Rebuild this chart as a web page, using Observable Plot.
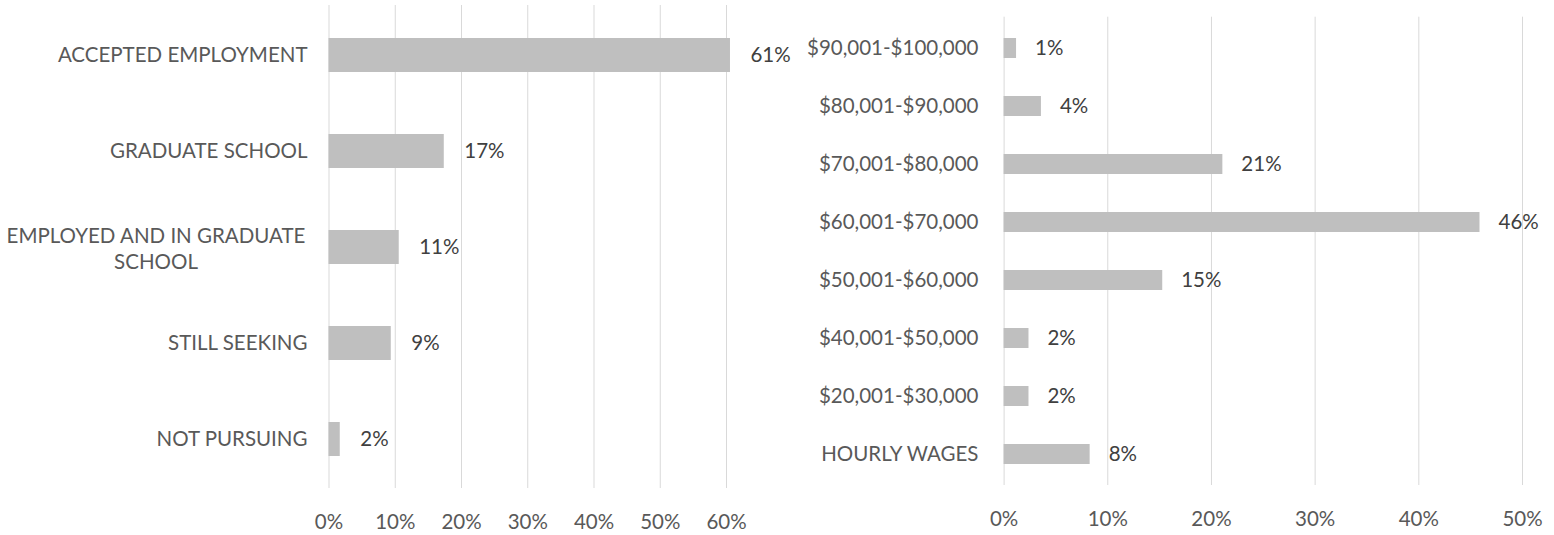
<!DOCTYPE html>
<html><head><meta charset="utf-8">
<script src="https://cdn.jsdelivr.net/npm/d3@7"></script>
<script src="https://cdn.jsdelivr.net/npm/@observablehq/plot@0.6"></script>
<style>
html,body{margin:0;padding:0;background:#fff;}
#wrap{position:relative;width:1554px;height:535px;overflow:hidden;background:#fff;}
#left{position:absolute;left:0;top:0;}
#right{position:absolute;left:800px;top:0;}
</style></head><body><div id="wrap"><div id="left"></div><div id="right"></div></div>
<script>
const outcomeCategories = ["ACCEPTED EMPLOYMENT", "GRADUATE SCHOOL", "EMPLOYED AND IN GRADUATE\nSCHOOL", "STILL SEEKING", "NOT PURSUING"];
const outcomeValues = [0.606, 0.174, 0.106, 0.094, 0.017];
const outcomeTicks = [0, 0.1, 0.2, 0.3, 0.4, 0.5, 0.6];

const salaryCategories = ["$90,001-$100,000", "$80,001-$90,000", "$70,001-$80,000", "$60,001-$70,000", "$50,001-$60,000", "$40,001-$50,000", "$20,001-$30,000", "HOURLY WAGES"];
const salaryValues = [0.012, 0.036, 0.211, 0.459, 0.153, 0.024, 0.024, 0.083];
const salaryTicks = [0, 0.1, 0.2, 0.3, 0.4, 0.5];

const pct = d3.format(".0%");
const FONT = "Lato, 'Open Sans', sans-serif";
const FS = "20.5px";
const baseStyle = {fontFamily: FONT, fontSize: FS, color: "#595959", background: "white", overflow: "visible"};

const outcomes = outcomeCategories.map((c, i) => ({category: c, value: outcomeValues[i]}));
const salaries = salaryCategories.map((c, i) => ({category: c, value: salaryValues[i]}));

const left = Plot.plot({
  width: 800, height: 535,
  marginLeft: 328.5, marginRight: 74, marginTop: 5, marginBottom: 47,
  style: baseStyle,
  x: {domain: [0, 0.6], label: null},
  y: {domain: outcomeCategories, paddingInner: 0.65, paddingOuter: 0.325, axis: null, label: null},
  marks: [
    Plot.gridX(outcomeTicks, {stroke: "#D9D9D9", strokeOpacity: 1, strokeWidth: 1}),
    Plot.axisX(outcomeTicks, {tickSize: 0, tickPadding: 26, tickFormat: pct, label: null}),
    Plot.barX(outcomes, {x: "value", y: "category", fill: "#BFBFBF"}),
    Plot.text(outcomes.filter(d => !d.category.includes("\n")), {x: 0, y: "category", text: "category", textAnchor: "end", dx: -21.5, fill: "#595959"}),
    Plot.text(outcomes.filter(d => d.category.includes("\n")), {x: 0, y: "category", text: "category", textAnchor: "middle", dx: -173, lineHeight: 1.3, fill: "#595959"}),
    Plot.text(outcomes, {x: "value", y: "category", text: d => pct(d.value), textAnchor: "start", dx: 20, fill: "#404040"})
  ]
});
document.getElementById("left").appendChild(left);

const right = Plot.plot({
  width: 754, height: 535,
  marginLeft: 203.6, marginRight: 32, marginTop: 16.7, marginBottom: 50,
  style: baseStyle,
  x: {domain: [0, 0.5], label: null},
  y: {domain: salaryCategories, paddingInner: 0.65, paddingOuter: 0.325, label: null},
  marks: [
    Plot.gridX(salaryTicks, {stroke: "#D9D9D9", strokeOpacity: 1, strokeWidth: 1}),
    Plot.axisX(salaryTicks, {tickSize: 0, tickPadding: 26, tickFormat: pct, label: null}),
    Plot.axisY({tickSize: 0, tickPadding: 25.6, label: null}),
    Plot.barX(salaries, {x: "value", y: "category", fill: "#BFBFBF"}),
    Plot.text(salaries, {x: "value", y: "category", text: d => pct(d.value), textAnchor: "start", dx: 18.5, fill: "#404040"})
  ]
});
document.getElementById("right").appendChild(right);
</script></body></html>
